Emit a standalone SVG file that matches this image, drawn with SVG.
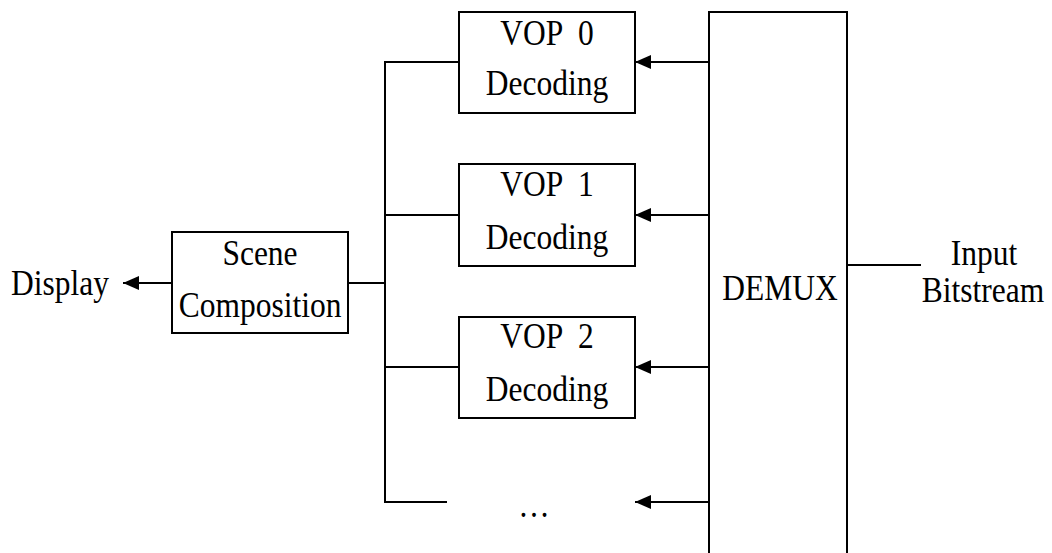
<svg xmlns="http://www.w3.org/2000/svg" width="1052" height="553" viewBox="0 0 1052 553">
<defs>
<style>
.box{fill:#fff;stroke:#000;stroke-width:2}
.ln{fill:none;stroke:#000;stroke-width:2}
.t{font-family:"Liberation Serif","Times New Roman",serif;font-size:31.5px;fill:#000;text-anchor:middle}
</style>
<marker id="ah" viewBox="0 0 16 14" refX="16" refY="7" markerWidth="16" markerHeight="14" markerUnits="userSpaceOnUse" orient="auto">
<path d="M0,0 L16,7 L0,14 Z" fill="#000"/>
</marker>
</defs>
<rect width="1052" height="553" fill="#fff"/>
<g id="connectors">
<line class="ln" x1="172" y1="283" x2="123" y2="283" marker-end="url(#ah)"/>
<line class="ln" x1="348" y1="283" x2="385" y2="283"/>
<polyline class="ln" points="459,62 385,62 385,502 447,502"/>
<line class="ln" x1="385" y1="215" x2="459" y2="215"/>
<line class="ln" x1="385" y1="367" x2="463" y2="367"/>
<line class="ln" x1="709" y1="62" x2="635" y2="62" marker-end="url(#ah)"/>
<line class="ln" x1="709" y1="215" x2="635" y2="215" marker-end="url(#ah)"/>
<line class="ln" x1="709" y1="367" x2="635" y2="367" marker-end="url(#ah)"/>
<line class="ln" x1="709" y1="502" x2="635" y2="502" marker-end="url(#ah)"/>
<line class="ln" x1="847" y1="265" x2="921" y2="265"/>
</g>
<g id="display"><text class="t" transform="translate(60,295) scale(1,1.12)">Display</text></g>
<g id="scene">
<rect class="box" x="172" y="232" width="176" height="101"/>
<text class="t" transform="translate(260,265) scale(1,1.12)">Scene</text>
<text class="t" transform="translate(260,317) scale(1,1.12)">Composition</text>
</g>
<g id="vop0">
<rect class="box" x="459" y="12" width="176" height="101"/>
<text class="t" transform="translate(547,45) scale(1,1.12)" xml:space="preserve">VOP  0</text>
<text class="t" transform="translate(547,95) scale(1,1.12)">Decoding</text>
</g>
<g id="vop1">
<rect class="box" x="459" y="164" width="176" height="102"/>
<text class="t" transform="translate(547,196) scale(1,1.12)" xml:space="preserve">VOP  1</text>
<text class="t" transform="translate(547,249) scale(1,1.12)">Decoding</text>
</g>
<g id="vop2">
<rect class="box" x="459" y="317" width="176" height="101"/>
<text class="t" transform="translate(547,348) scale(1,1.12)" xml:space="preserve">VOP  2</text>
<text class="t" transform="translate(547,401) scale(1,1.12)">Decoding</text>
</g>
<g id="ellipsis"><text class="t" transform="translate(534,517) scale(1,1.12)">…</text></g>
<g id="demux">
<path class="ln" d="M709,556 L709,12 L847,12 L847,556"/>
<text class="t" transform="translate(780,300) scale(1,1.12)">DEMUX</text>
</g>
<g id="input">
<text class="t" transform="translate(984,265) scale(1,1.12)">Input</text>
<text class="t" transform="translate(983,302) scale(1,1.12)">Bitstream</text>
</g>
</svg>
